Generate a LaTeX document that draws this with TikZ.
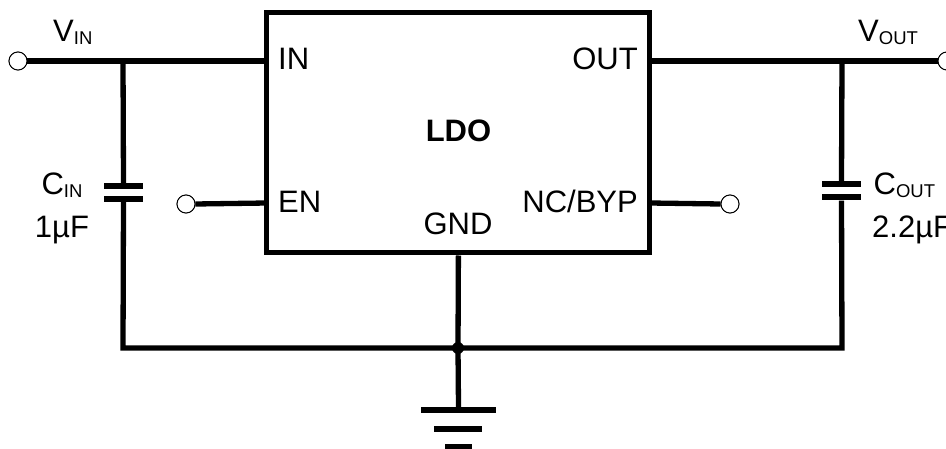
\documentclass[tikz,border=0pt]{standalone}
\usepackage{fontspec}
\setmainfont{Liberation Sans}
\begin{document}
\begin{tikzpicture}[x=1pt,y=-1pt,
  wire/.style={line width=5.3pt},
  term/.style={circle,draw,line width=0.9pt,fill=white,minimum size=18pt,inner sep=0pt},
  plate/.style={rectangle,fill=black,inner sep=0pt,minimum height=6pt},
  lbl/.style={inner sep=0pt,font=\fontsize{31}{36}\selectfont},
  dot/.style={circle,fill=black,inner sep=0pt,minimum size=12pt}]
\useasboundingbox (0,0) rectangle (946,449);
% LDO box
\node[draw,line width=5pt,minimum width=383pt,minimum height=240.5pt,inner sep=0pt] (ldo) at (458.4,132.75) {};
\coordinate (pIN) at (266.8,61);
\coordinate (pEN) at (266.8,203);
\coordinate (pOUT) at (650,61);
\coordinate (pNC) at (650,203);
% labels in box
\node[lbl,anchor=base west] (tIN) at (278,70) {IN};
\node[lbl,anchor=base west] (tEN) at (278,213) {EN};
\node[lbl,anchor=base east] (tOUT) at (638,70) {OUT};
\node[lbl,anchor=base east] (tNC) at (638,213) {NC/BYP};
\node[lbl,anchor=base] (tGND) at (458,235) {GND};
\node[lbl,anchor=base,font=\fontsize{31}{36}\selectfont\bfseries] (tLDO) at (458.5,142) {LDO};
% terminals
\node[term] (vin) at (18,61) {};
\node[term] (vout) at (947,61) {};
\node[term] (en) at (186,204) {};
\node[term] (nc) at (730,204) {};
% junctions
\coordinate (jin) at (123,61);
\coordinate (jout) at (842,61);
\coordinate (bl) at (123,348);
\coordinate (br) at (842,348);
\node[dot] (jg) at (458,348) {};
% capacitors
\node[plate,minimum width=39pt] (cin1) at (123.5,186) {};
\node[plate,minimum width=39pt] (cin2) at (123.5,199) {};
\node[plate,minimum width=39pt] (cout1) at (841.5,184) {};
\node[plate,minimum width=39pt] (cout2) at (841.5,197.5) {};
% ground
\node[plate,minimum width=75pt] (g1) at (458.5,410) {};
\node[plate,minimum width=48pt] (g2) at (458,429) {};
\node[plate,minimum width=27pt] (g3) at (458.5,446.5) {};
% wires
\draw[wire] (vin.east) -- (jin) -- (pIN);
\draw[wire] (pOUT) -- (jout) -- (vout.west);
\draw[wire] (en.east) -- (pEN);
\draw[wire] (pNC) -- (nc.west);
\draw[wire] (jin) -- (cin1.north);
\draw[wire] (cin2.south) -- (bl) -- (br) -- (cout2.south);
\draw[wire] (jout) -- (cout1.north);
\draw[wire] (ldo.south) -- (jg.center) -- (g1.north);
\node[term] at (vin) {};
\node[term] at (vout) {};
\node[term] at (en) {};
\node[term] at (nc) {};
% external labels
\node[lbl,anchor=base west] (lvin) at (53,42) {V\raisebox{-3pt}{\fontsize{18.5}{20}\selectfont IN}};
\node[lbl,anchor=base west] (lvout) at (858,42) {V\raisebox{-3pt}{\fontsize{18.5}{20}\selectfont OUT}};
\node[lbl,anchor=base] (lcin) at (62,195) {C\raisebox{-3pt}{\fontsize{18.5}{20}\selectfont IN}};
\node[lbl,anchor=base] (lcinv) at (62,238) {1µF};
\node[lbl,anchor=base west] (lcout) at (873.5,195) {C\raisebox{-3pt}{\fontsize{18.5}{20}\selectfont OUT}};
\node[lbl,anchor=base west] (lcoutv) at (872,238) {2.2µF};
\end{tikzpicture}
\end{document}
